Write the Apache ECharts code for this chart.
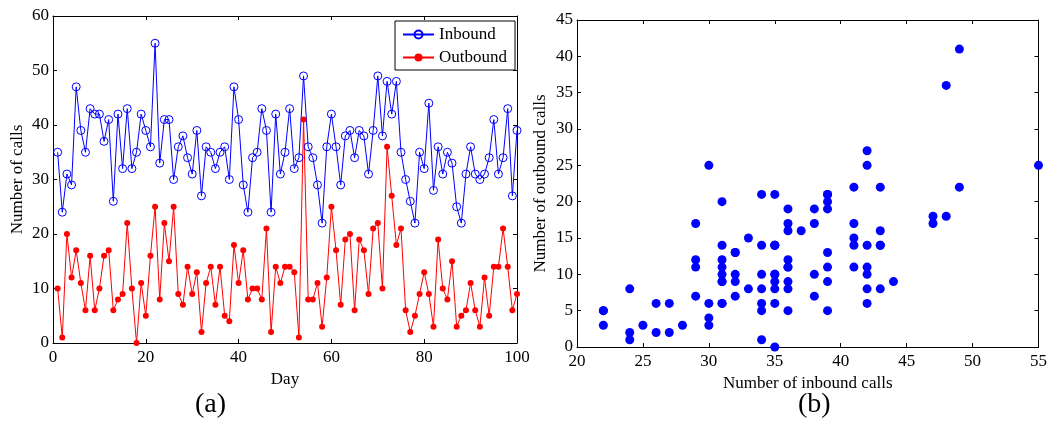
<!DOCTYPE html>
<html>
<head>
<meta charset="utf-8">
<script src="https://cdn.jsdelivr.net/npm/echarts@6/dist/echarts.min.js"></script>
<style>
html,body{margin:0;padding:0;background:#fff;}
#c{width:1050px;height:421px;}
</style>
</head>
<body>
<div id="c"></div>
<script>
// Daily number of inbound calls (days 1..100)
const inbound = [
  35,24,31,29,47,39,35,43,42,42,
  37,41,26,42,32,43,32,35,42,39,
  36,55,33,41,41,30,36,38,34,31,
  39,27,36,35,32,35,36,30,47,41,
  29,24,34,35,43,39,24,42,31,35,
  43,32,34,49,36,34,29,22,36,42,
  36,29,38,39,34,39,38,31,39,49,
  38,48,42,48,35,30,26,22,35,32,
  44,28,36,31,35,33,25,22,31,36,
  31,30,31,34,41,31,34,43,27,39
];
// Daily number of outbound calls (days 1..100)
const outbound = [
  10,1,20,12,17,11,6,16,6,10,
  16,17,6,8,9,22,10,0,11,5,
  16,25,8,22,15,25,9,7,14,9,
  13,2,11,14,7,14,5,4,18,11,
  17,8,10,10,8,21,2,14,11,14,
  14,13,1,41,8,8,11,3,12,25,
  17,7,19,20,6,19,17,9,21,22,
  10,36,27,18,21,6,2,5,9,13,
  9,3,19,10,8,15,3,5,6,11,
  6,3,12,5,14,14,21,14,6,9
];
const seriesNames = ['Inbound', 'Outbound'];
const panelLabels = ['(a)', '(b)'];

const FONT = 'Liberation Serif';
const inboundPts = inbound.map((v, i) => [i + 1, v]);
const outboundPts = outbound.map((v, i) => [i + 1, v]);
const scatterPts = inbound.map((v, i) => [v, outbound[i]]);

function axisBase(extra) {
  return Object.assign({
    type: 'value',
    splitLine: {show: false},
    axisLine: {show: true, onZero: false, lineStyle: {color: '#000', width: 1}},
    axisTick: {show: true, inside: true, length: 4, lineStyle: {color: '#000', width: 1}},
    axisLabel: {color: '#000', fontFamily: FONT, fontSize: 17},
    nameTextStyle: {color: '#000', fontFamily: FONT, fontSize: 17}
  }, extra);
}
function mirror(extra) {
  const a = axisBase(extra);
  a.axisLabel = {show: false};
  return a;
}

const chart = echarts.init(document.getElementById('c'), null, {renderer: 'canvas'});
chart.setOption({
  animation: false,
  backgroundColor: '#fff',
  grid: [
    {left: 53, top: 16, width: 464, height: 327},
    {left: 577, top: 20, width: 463, height: 327}
  ],
  xAxis: [
    axisBase({gridIndex: 0, min: 0, max: 100, interval: 20, position: 'bottom',
      name: 'Day', nameLocation: 'middle', nameGap: 23, axisLabel: {color: '#000', fontFamily: FONT, fontSize: 17, margin: 6}}),
    mirror({gridIndex: 0, min: 0, max: 100, interval: 20, position: 'top'}),
    axisBase({gridIndex: 1, min: 20, max: 55, interval: 5, position: 'bottom',
      name: 'Number of inbound calls', nameLocation: 'middle', nameGap: 24, axisLabel: {color: '#000', fontFamily: FONT, fontSize: 17, margin: 6}}),
    mirror({gridIndex: 1, min: 20, max: 55, interval: 5, position: 'top'})
  ],
  yAxis: [
    axisBase({gridIndex: 0, min: 0, max: 60, interval: 10, position: 'left',
      name: 'Number of calls', nameLocation: 'middle', nameGap: 27, axisLabel: {color: '#000', fontFamily: FONT, fontSize: 17, margin: 4}}),
    mirror({gridIndex: 0, min: 0, max: 60, interval: 10, position: 'right'}),
    axisBase({gridIndex: 1, min: 0, max: 45, interval: 5, position: 'left',
      name: 'Number of outbound calls', nameLocation: 'middle', nameGap: 28, axisLabel: {color: '#000', fontFamily: FONT, fontSize: 17, margin: 4}}),
    mirror({gridIndex: 1, min: 0, max: 45, interval: 5, position: 'right'})
  ],
  legend: {
    data: seriesNames,
    orient: 'vertical',
    left: 395, top: 21,
    padding: [5, 8, 4, 7],
    itemWidth: 31, itemHeight: 10, itemGap: 6,
    borderColor: '#000', borderWidth: 1,
    backgroundColor: '#fff',
    textStyle: {color: '#000', fontFamily: FONT, fontSize: 17}
  },
  series: [
    {
      name: seriesNames[1], type: 'line', xAxisIndex: 0, yAxisIndex: 0,
      data: outboundPts, symbol: 'circle', symbolSize: 6,
      lineStyle: {color: '#ff0000', width: 1},
      itemStyle: {color: '#ff0000'}
    },
    {
      name: seriesNames[0], type: 'line', xAxisIndex: 0, yAxisIndex: 0,
      data: inboundPts, symbol: 'circle', symbolSize: 8,
      lineStyle: {color: '#0000ff', width: 1},
      itemStyle: {color: 'rgba(255,255,255,0)', borderColor: '#0000ff', borderWidth: 1}
    },
    {
      name: 'scatter', type: 'scatter', xAxisIndex: 2, yAxisIndex: 2,
      data: scatterPts, symbol: 'circle', symbolSize: 9,
      itemStyle: {color: '#0000ff', opacity: 1}
    }
  ],
  graphic: [
    {type: 'text', left: 195, top: 391, style: {text: panelLabels[0], font: '28px "Liberation Serif"', fill: '#000'}},
    {type: 'text', left: 798, top: 391, style: {text: panelLabels[1], font: '28px "Liberation Serif"', fill: '#000'}}
  ]
});
</script>
</body>
</html>
